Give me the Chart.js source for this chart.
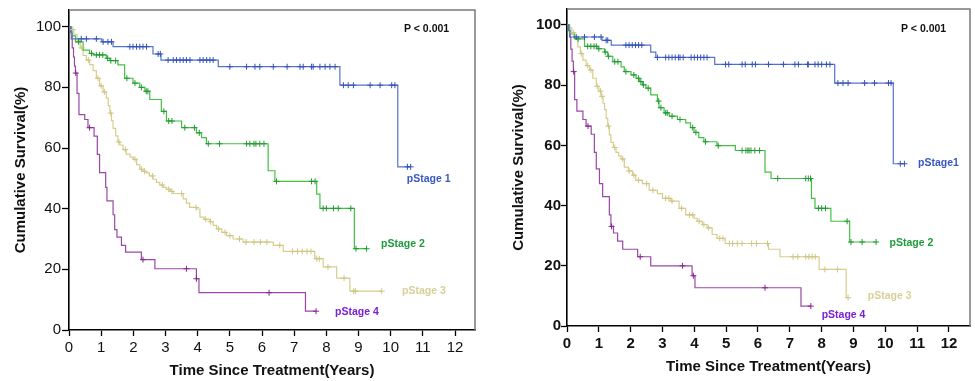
<!DOCTYPE html>
<html>
<head>
<meta charset="utf-8">
<script src="https://cdn.jsdelivr.net/npm/chart.js@4"></script>
<style>
  body { margin: 0; background: #fff; width: 975px; height: 381px; overflow: hidden; position: relative; }
  canvas { position: absolute; top: 0; }
  #left { left: 0; }
  #right { left: 490px; }
</style>
</head>
<body>
<canvas id="left" width="490" height="381"></canvas>
<canvas id="right" width="485" height="381"></canvas>
<script>
const xTicks = [0, 1, 2, 3, 4, 5, 6, 7, 8, 9, 10, 11, 12];
const yTicks = [0, 20, 40, 60, 80, 100];
const stageNames = ['pStage 1', 'pStage 2', 'pStage 3', 'pStage 4'];

// ---- left panel ----
const L1_t = [0, 0.05, 0.1, 1.02, 1.37, 2.61, 2.86, 4.64, 8.42, 10.22, 10.62];
const L1_s = [100, 98.4, 96.0, 95.0, 93.4, 91.0, 89.0, 86.8, 80.7, 53.8, 53.8];
const L1_c = [0.38, 0.54, 0.85, 1.06, 1.21, 1.32, 1.89, 1.99, 2.1, 2.2, 2.3, 2.41, 2.77, 2.84, 3.08, 3.24, 3.34, 3.45,
  3.55, 3.65, 3.76, 4.07, 4.17, 4.28, 4.38, 4.48, 5.0, 5.52, 5.78, 5.93, 6.35, 6.78, 7.18, 7.28, 7.54, 7.59, 7.8,
  7.96, 8.11, 8.27, 8.53, 8.68, 8.84, 9.36, 9.67, 10.03, 10.13, 10.52, 10.62];

const L2_t = [0, 0.08, 0.2, 0.44, 0.64, 0.75, 1.16, 1.27, 1.52, 1.73, 1.99, 2.2, 2.36, 2.51, 2.87, 3.03, 3.5, 3.96,
  4.12, 4.27, 6.19, 6.4, 7.7, 7.8, 8.87, 9.25];
const L2_s = [100, 97, 95, 92.3, 91.2, 90.7, 89.6, 88.8, 87.4, 83.0, 81.4, 80.0, 78.7, 76.0, 72.1, 68.9, 66.7, 65.0,
  63.4, 61.4, 52.5, 49.0, 44.8, 40.1, 26.8, 26.8];
const L2_c = [0.3, 0.7, 0.85, 0.95, 1.05, 1.2, 1.3, 1.45, 1.8, 2.05, 2.25, 2.4, 2.45, 2.95, 3.1, 3.2, 3.6, 3.9,
  4.05, 4.33, 4.68, 5.52, 5.62, 5.75, 5.81, 5.93, 6.06, 6.45, 7.54, 7.65, 7.9, 8.0, 8.22, 8.37, 8.76, 8.92, 9.25];

const L3_t = [0, 0.05, 0.15, 0.25, 0.35, 0.44, 0.54, 0.64, 0.75, 0.85, 0.95, 1.06, 1.16, 1.22, 1.27, 1.32, 1.37,
  1.45, 1.52, 1.58, 1.68, 1.78, 1.9, 2.0, 2.1, 2.2, 2.3, 2.4, 2.5, 2.61, 2.72, 2.82, 2.93, 3.03, 3.14, 3.24, 3.55,
  3.65, 3.75, 3.96, 4.07, 4.2, 4.38, 4.48, 4.59, 4.75, 4.9, 5.1, 5.41, 6.35, 6.66, 7.64, 7.9, 8.32, 8.73, 9.72];
const L3_s = [100, 99, 97.5, 95.5, 93, 90.5, 89, 87.5, 85.5, 83, 80.5, 78.5, 76.5, 74, 71.5, 69, 66.5,
  64, 62, 61, 59.5, 58, 57, 56.3, 54.5, 53, 52.3, 51.8, 50.8, 49.7, 48.7, 47.8, 47, 46.4, 45.7, 45, 43.2,
  41.8, 40.4, 39.9, 37.2, 36.5, 35.7, 34.5, 33.3, 32.2, 31.1, 30, 29, 27.9, 25.9, 23.5, 20.8, 17.1, 12.8, 12.8];
const L3_c = [0.12, 0.4, 0.6, 0.9, 1.0, 1.1, 1.3, 1.55, 1.75, 2.05, 2.25, 2.35, 2.6, 2.9, 3.1, 3.2, 3.5, 3.95, 4.25,
  4.4, 4.65, 4.85, 5.0, 5.3, 5.5, 5.75, 5.95, 6.15, 6.55, 6.95, 7.1, 7.25, 7.4, 7.52, 7.7, 7.78, 8.05, 8.55, 8.85,
  8.9, 9.72];

const L4_t = [0, 0.03, 0.07, 0.1, 0.14, 0.17, 0.2, 0.25, 0.31, 0.49, 0.59, 0.78, 0.88, 0.95, 1.14, 1.18, 1.37, 1.42,
  1.49, 1.63, 1.76, 2.25, 2.67, 3.96, 4.04, 7.35, 7.68];
const L4_s = [100, 98, 96, 93, 90, 87, 84.7, 78, 71, 69.4, 66.7, 63.9, 57.9, 51.9, 47, 42.6, 38, 33.1,
  30.6, 27.9, 25.7, 23.2, 20.2, 16.9, 12.3, 6.2, 6.2];
const L4_c = [0.21, 0.64, 2.3, 3.65, 3.96, 6.22, 7.68];

// ---- right panel ----
const R1_t = [0, 0.05, 0.1, 1.1, 1.39, 2.63, 2.79, 4.64, 8.41, 10.25, 10.6];
const R1_s = [100, 98.1, 96.0, 94.9, 93.3, 91.0, 89.2, 86.9, 80.7, 53.9, 53.9];
const R1_c = [0.29, 0.55, 0.86, 1.07, 1.23, 1.28, 1.85, 1.95, 2.05, 2.15, 2.25, 2.35, 2.84, 3.1, 3.2, 3.3, 3.4, 3.5,
  3.55, 3.65, 3.9, 4.0, 4.1, 4.2, 4.3, 4.4, 4.98, 5.08, 5.5, 5.6, 5.82, 5.92, 6.33, 6.8, 7.16, 7.27, 7.56, 7.58,
  7.79, 7.89, 8.0, 8.15, 8.26, 8.51, 8.67, 8.83, 9.35, 9.66, 10.1, 10.18, 10.47, 10.6];

const R2_t = [0, 0.08, 0.24, 0.55, 0.97, 1.18, 1.28, 1.44, 1.7, 1.8, 2.01, 2.17, 2.27, 2.37, 2.48, 2.63, 2.84, 2.89,
  3.05, 3.21, 3.47, 3.73, 3.88, 3.99, 4.14, 4.3, 4.71, 5.29, 6.22, 6.41, 7.68, 7.79, 8.29, 8.88, 9.71];
const R2_s = [100, 97, 95.4, 92.9, 92.1, 91.0, 89.6, 87.8, 86.1, 84.5, 83.4, 82.3, 81.2, 80.1, 79.0, 76.8, 74.7, 72.5,
  70.8, 69.7, 68.6, 67.5, 65.9, 64.3, 62.6, 61.2, 59.9, 58.3, 51.1, 49.0, 42.4, 39.1, 34.8, 27.9, 27.9];
const R2_c = [0.35, 0.65, 0.75, 0.85, 0.92, 1.0, 1.2, 1.3, 1.5, 1.6, 1.85, 2.1, 2.25, 2.32, 2.4, 2.55, 2.88, 2.95,
  3.1, 3.15, 3.3, 3.55, 3.95, 4.05, 4.35, 4.75, 5.5, 5.62, 5.68, 5.72, 5.78, 5.9, 6.05, 6.62, 7.5, 7.58, 7.65,
  7.9, 8.0, 8.12, 8.8, 8.92, 9.27, 9.71];

const R3_t = [0, 0.08, 0.15, 0.22, 0.34, 0.42, 0.5, 0.6, 0.71, 0.81, 0.92, 1.0, 1.07, 1.13, 1.18, 1.23, 1.28, 1.33,
  1.38, 1.46, 1.54, 1.62, 1.7, 1.8, 1.93, 2.06, 2.16, 2.37, 2.58, 2.84, 3.0, 3.26, 3.52, 3.73, 3.99, 4.09, 4.25,
  4.4, 4.56, 4.71, 4.97, 6.33, 6.69, 7.92, 8.77, 8.83];
const R3_s = [100, 99, 97.5, 95.5, 92.7, 90.5, 88.3, 86.5, 85, 82.3, 79.6, 78, 76.3, 74, 71.9, 69, 66.4, 63.5,
  61, 59.3, 57.7, 56.5, 55.5, 52.8, 51.5, 50.1, 48.4, 47.3, 45.1, 44, 42.4, 41.5, 39.1, 36.9, 35.8, 34.8, 33.7,
  32.6, 30.4, 29.1, 27.4, 25.5, 23, 18.8, 9.4, 9.4];
const R3_c = [0.2, 0.45, 0.65, 0.75, 0.95, 1.05, 1.1, 1.3, 1.5, 1.75, 1.95, 2.1, 2.25, 2.5, 2.7, 3.1, 3.2, 3.3, 3.6,
  3.85, 3.95, 4.15, 4.3, 4.45, 4.8, 4.9, 5.1, 5.2, 5.35, 5.5, 5.8, 5.95, 6.3, 7.1, 7.25, 7.5, 7.6, 7.7, 7.8, 8.1,
  8.5, 8.83];

const R4_t = [0, 0.04, 0.08, 0.12, 0.16, 0.2, 0.24, 0.31, 0.5, 0.6, 0.76, 0.86, 0.92, 1.02, 1.12, 1.33, 1.38, 1.46,
  1.59, 1.75, 2.22, 2.63, 3.93, 4.02, 7.35, 7.66];
const R4_s = [100, 99, 96, 92, 88, 84.5, 75.2, 71.4, 68.6, 66.4, 63.7, 57.7, 52.2, 47.3, 43, 36.9, 33.1, 30.9,
  28.2, 25.5, 23, 20, 16.7, 12.7, 6.6, 6.6];
const R4_c = [0.21, 0.66, 1.4, 2.3, 3.63, 3.97, 6.22, 7.66];

const lineColors = ['#5673c9', '#45c045', '#d6ce8e', '#9a48a8'];
const markColors = ['#3553b8', '#219a32', '#cfc684', '#85288f'];
const labelColors = ['#3a58c0', '#1f9a3c', '#d8d096', '#7a22d2'];
const FONT = "'Liberation Sans', Arial, sans-serif";

function stepPts(t, s) {
  return t.map((v, i) => ({ x: v, y: s[i] }));
}

// y of a censor mark = survival value of the step it sits on
function censorPts(t, s, c) {
  return c.map(ct => {
    let i = 0;
    while (i + 1 < t.length && t[i + 1] <= ct) i++;
    return { x: ct, y: s[i] };
  });
}

const framePlugin = {
  id: 'frame',
  beforeDatasetsDraw(chart) {
    const { ctx, chartArea: a } = chart;
    ctx.save();
    ctx.strokeStyle = '#7a7a7a';
    ctx.lineWidth = 1.5;
    ctx.beginPath();
    ctx.moveTo(a.left, a.top);
    ctx.lineTo(a.right, a.top);
    ctx.lineTo(a.right, a.bottom);
    ctx.stroke();
    ctx.restore();
  }
};

const textPlugin = {
  id: 'texts',
  afterDraw(chart, args, opts) {
    const { ctx, scales: { x, y } } = chart;
    ctx.save();
    ctx.textAlign = 'left';
    ctx.textBaseline = 'middle';
    (opts.items || []).forEach(it => {
      ctx.font = `bold ${it.size || 10.5}px ${FONT}`;
      ctx.fillStyle = it.color;
      ctx.fillText(it.text, x.getPixelForValue(it.x), y.getPixelForValue(it.y));
    });
    ctx.restore();
  }
};

function makeChart(id, curves, cfg) {
  const datasets = [];
  curves.forEach((c, i) => {
    datasets.push({
      label: stageNames[i],
      data: stepPts(c[0], c[1]),
      stepped: true,
      borderColor: lineColors[i],
      borderWidth: 1.2,
      pointRadius: 0,
      fill: false,
      order: 2,
    });
  });
  curves.forEach((c, i) => {
    datasets.push({
      label: stageNames[i] + ' censored',
      data: censorPts(c[0], c[1], c[2]),
      showLine: false,
      pointStyle: 'cross',
      pointRadius: 3,
      pointBorderWidth: 1,
      pointBorderColor: markColors[i],
      pointBackgroundColor: markColors[i],
      order: 1,
    });
  });

  return new Chart(document.getElementById(id), {
    type: 'line',
    data: { datasets },
    plugins: [framePlugin, textPlugin],
    options: {
      responsive: false,
      animation: false,
      devicePixelRatio: 1,
      layout: { padding: cfg.padding },
      plugins: {
        legend: { display: false },
        tooltip: { enabled: false },
        texts: { items: cfg.texts },
      },
      scales: {
        x: {
          type: 'linear',
          min: 0,
          max: cfg.xMax,
          afterFit: s => { s.height = cfg.xHeight; },
          afterBuildTicks: s => { s.ticks = xTicks.map(v => ({ value: v })); },
          border: { color: '#000', width: 1.6 },
          grid: { drawOnChartArea: false, color: '#000', tickLength: 6, tickWidth: 1.3 },
          ticks: {
            padding: 3,
            maxRotation: 0,
            color: '#111',
            font: { family: FONT, size: 15, weight: cfg.tickWeight },
          },
          title: {
            display: true,
            text: 'Time Since Treatment(Years)',
            color: '#111',
            font: { family: FONT, size: 15, weight: 'bold' },
            padding: { top: 0, bottom: cfg.xTitlePad },
          },
        },
        y: {
          min: 0,
          max: cfg.yMax,
          afterFit: s => { s.width = cfg.yWidth; },
          afterBuildTicks: s => { s.ticks = yTicks.map(v => ({ value: v })); },
          border: { color: '#000', width: 1.6 },
          grid: { drawOnChartArea: false, color: '#000', tickLength: cfg.yTick, tickWidth: 1.3 },
          ticks: {
            padding: cfg.yTickPad,
            color: '#111',
            font: { family: FONT, size: 15, weight: cfg.tickWeight },
          },
          title: {
            display: true,
            text: 'Cumulative Survival(%)',
            color: '#111',
            font: { family: FONT, size: 15, weight: 'bold' },
            padding: { top: cfg.yTitlePad, bottom: 0 },
          },
        },
      },
    },
  });
}

makeChart('left', [[L1_t, L1_s, L1_c], [L2_t, L2_s, L2_c], [L3_t, L3_s, L3_c], [L4_t, L4_s, L4_c]], {
  padding: { top: 8, right: 15, left: 0, bottom: 0 },
  xMax: 12.62, yMax: 105.5, xHeight: 51, yWidth: 69,
  yTick: 7, yTickPad: 1, tickWeight: 'normal',
  xTitlePad: 1, yTitlePad: 12,
  texts: [
    { text: 'P < 0.001', x: 10.41, y: 99.3, color: '#111' },
    { text: stageNames[0], x: 10.5, y: 49.8, color: labelColors[0] },
    { text: stageNames[1], x: 9.7, y: 28.2, color: labelColors[1] },
    { text: stageNames[2], x: 10.35, y: 12.8, color: labelColors[2] },
    { text: stageNames[3], x: 8.27, y: 5.9, color: labelColors[3] },
  ],
});

makeChart('right', [[R1_t, R1_s, R1_c], [R2_t, R2_s, R2_c], [R3_t, R3_s, R3_c], [R4_t, R4_s, R4_c]], {
  padding: { top: 5, right: 2, left: 0, bottom: 0 },
  xMax: 12.66, yMax: 105.3, xHeight: 55, yWidth: 77,
  yTick: 6, yTickPad: 0, tickWeight: 'bold',
  xTitlePad: 5, yTitlePad: 20,
  texts: [
    { text: 'P < 0.001', x: 10.49, y: 98.5, color: '#111' },
    { text: 'pStage1', x: 11.03, y: 54.1, color: labelColors[0] },
    { text: stageNames[1], x: 10.13, y: 27.5, color: labelColors[1] },
    { text: stageNames[2], x: 9.45, y: 9.9, color: labelColors[2] },
    { text: stageNames[3], x: 8.0, y: 3.6, color: labelColors[3] },
  ],
});
</script>
</body>
</html>
